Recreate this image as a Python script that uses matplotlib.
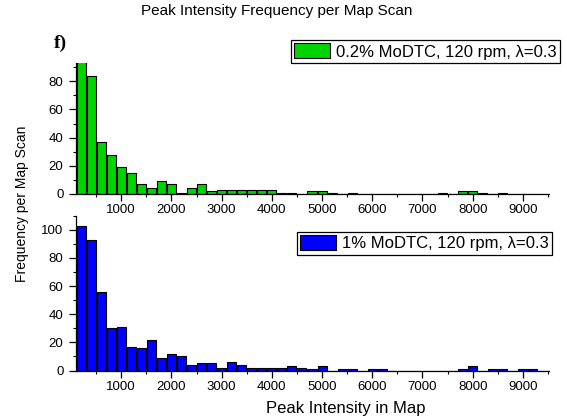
import matplotlib
matplotlib.use("Agg")
import matplotlib.pyplot as plt
from matplotlib.ticker import MultipleLocator
import numpy as np

plt.rcParams['font.family'] = ['Liberation Sans', 'DejaVu Sans']

# bin centers (Peak Intensity), bin width 200
bin_centers = list(range(200, 9600, 200))

freq_02 = [100, 84, 37, 28, 19, 15, 7, 4, 9, 7,
           1, 4, 7, 2, 3, 3, 3, 3, 3, 3,
           1, 1, 0, 2, 2, 1, 0, 1, 0, 0,
           0, 0, 0, 0, 0, 0, 1, 0, 2, 2,
           1, 0, 1, 0, 0, 0, 0]

freq_1 = [103, 93, 56, 30, 31, 17, 16, 22, 9, 12,
          10, 4, 5, 5, 2, 6, 4, 2, 2, 2,
          2, 3, 2, 1, 3, 0, 1, 1, 0, 1,
          1, 0, 0, 0, 0, 0, 0, 0, 1, 3,
          0, 1, 1, 0, 1, 1, 0]

label_02 = "0.2% MoDTC, 120 rpm, λ=0.3"
label_1 = "1% MoDTC, 120 rpm, λ=0.3"
title = "Peak Intensity Frequency per Map Scan"
xlabel = "Peak Intensity in Map"
ylabel = "Frequency per Map Scan"
panel_label = "f)"

W, H = 567, 418
fig = plt.figure(figsize=(W / 100, H / 100), dpi=100)

def fr(l, t, r, b):
    return [l / W, 1 - b / H, (r - l) / W, (b - t) / H]

ax1 = fig.add_axes(fr(76, 63, 549, 194))
ax2 = fig.add_axes(fr(76, 215.7, 549, 370.5))

green = '#00d400'
blue = '#0000ff'

b1 = ax1.bar(bin_centers, freq_02, width=180, color=green, edgecolor='black',
             linewidth=0.8, label=label_02)
b2 = ax2.bar(bin_centers, freq_1, width=180, color=blue, edgecolor='black',
             linewidth=0.8, label=label_1)

ax1.set_ylim(0, 93)
ax2.set_ylim(0, 110)

for ax in (ax1, ax2):
    ax.set_xlim(100, 9520)
    ax.spines['top'].set_visible(False)
    ax.spines['right'].set_visible(False)
    ax.spines['left'].set_linewidth(0.9)
    ax.spines['bottom'].set_linewidth(0.9)
    ax.xaxis.set_major_locator(MultipleLocator(1000))
    ax.xaxis.set_minor_locator(MultipleLocator(500))
    ax.yaxis.set_major_locator(MultipleLocator(20))
    ax.yaxis.set_minor_locator(MultipleLocator(10))
    ax.tick_params(which='major', direction='out', length=5, width=0.9,
                   labelsize=9.5)
    ax.tick_params(which='minor', direction='out', length=2.5, width=0.8)
    ax.tick_params(axis='x', which='major', pad=2.5)
    ax.tick_params(axis='y', which='major', pad=4)
    ax.set_xticks(range(1000, 10000, 1000))

common = dict(loc='upper right', bbox_transform=fig.transFigure,
              borderaxespad=0, fancybox=False, edgecolor='black',
              framealpha=1, fontsize=12, handlelength=2.15,
              handleheight=1.0, handletextpad=0.35, borderpad=0.2)
leg1 = ax1.legend(bbox_to_anchor=(560 / W, 1 - 40 / H), **common)
leg1.get_frame().set_linewidth(0.9)
leg2 = ax2.legend(bbox_to_anchor=(552 / W, 1 - 231.7 / H), **common)
leg2.get_frame().set_linewidth(0.9)

fig.text(276.5 / W, 1 - 11 / H, title, ha='center', va='center', fontsize=11)
fig.text(60 / W, 1 - 43 / H, panel_label, ha='center', va='center',
         fontsize=14, fontweight='bold', family='Liberation Serif')
fig.text(346 / W, 1 - 408 / H, xlabel, ha='center', va='center', fontsize=12)
fig.text(22 / W, 1 - 204 / H, ylabel, ha='center', va='center', fontsize=10,
         rotation=90)

fig.savefig('out.png', dpi=100)
